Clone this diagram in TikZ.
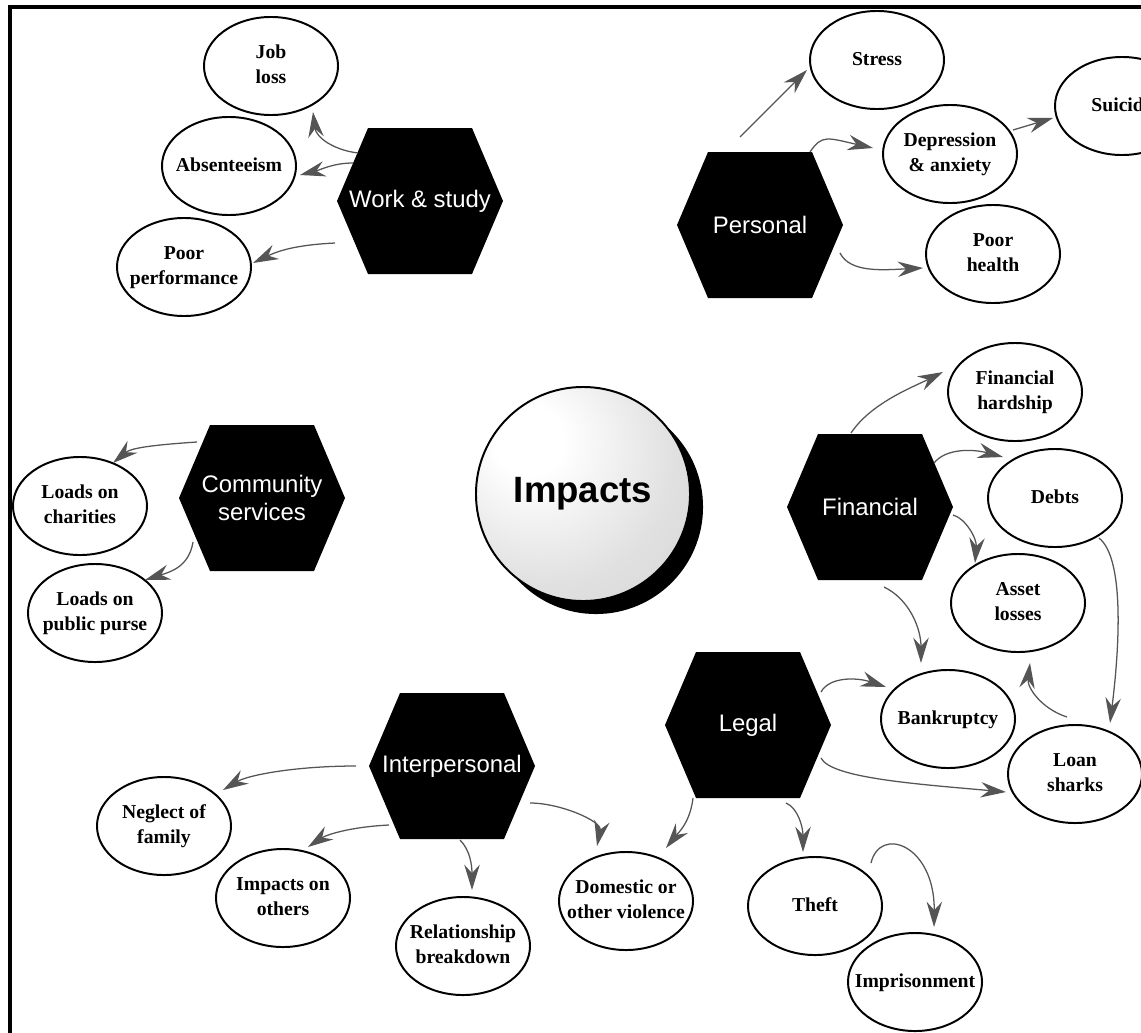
\documentclass[tikz,border=0pt]{standalone}
\usepackage{fontspec}
\setmainfont{Liberation Serif}
\newfontfamily\hexfont{Liberation Sans}
\usetikzlibrary{arrows.meta,shapes.geometric}
\definecolor{linegray}{HTML}{555555}
\definecolor{headgray}{HTML}{555555}
\pgfdeclareradialshading{impball}{\pgfpoint{-14bp}{14bp}}{color(0bp)=(white);color(8bp)=(white);color(30bp)=(black!12);color(60bp)=(black!20);color(80bp)=(black!22)}
\pgfdeclarelayer{bg}
\pgfsetlayers{bg,main}
\newcommand\etx[1]{\makebox[0pt]{\begin{tabular}{@{}c@{}}#1\end{tabular}}}
\newcommand\hexnode[3]{%
  \coordinate (#1c) at (#2);
  \fill[hexfill] ([shift={(-52,-73)}]#1c) -- ++(104,0) -- ++(31,73) -- ++(-31,73) -- ++(-104,0) -- ++(-31,-73) -- cycle;
  \node[hext] (#1) at (#1c) {#3};}
\newcommand\ellnode[3]{\node[ell] (#1) at (#2) {\etx{#3}};}
\begin{document}
\begin{tikzpicture}[x=0.025cm,y=-0.025cm,
  conn/.style={draw=linegray, line width=0.9pt, -{Stealth[length=18pt,width=11pt,inset=6pt,color=headgray]}},
  ell/.style={ellipse, draw=black, line width=1.4pt, fill=white, minimum width=3.35cm, minimum height=2.45cm, inner sep=0pt, font=\fontsize{14}{17.8}\selectfont\bfseries},
  hext/.style={text=white, font=\hexfont\fontsize{17}{20.5}\selectfont, align=center, inner sep=0pt},
  hexfill/.style={fill=black},
]
\useasboundingbox (0,0) rectangle (1141,1032);
\clip (0,0) rectangle (1141,1032);
\fill[white] (0,0) rectangle (1141,1032);
\draw[line width=2.2pt] (10,1040) -- (10,7) -- (1150,7);

% hexagons
\hexnode{ws}{420,201}{Work \& study}
\hexnode{per}{760,225}{Personal}
\hexnode{cs}{262,498}{Community\\services}
\hexnode{fin}{870,507}{Financial}
\hexnode{leg}{748,725}{Legal}
\hexnode{ip}{452,766}{Interpersonal}

% ellipses
\ellnode{jl}{271,66}{Job\\loss}
\ellnode{ab}{229,166}{Absenteeism}
\ellnode{pp}{184,267}{Poor\\performance}
\ellnode{st}{877,60}{Stress}
\ellnode{dep}{950,154}{Depression\\\& anxiety}
\ellnode{sui}{1122,106}{Suicide}
\ellnode{ph}{993,254}{Poor\\health}
\ellnode{lc}{80,506}{Loads on\\charities}
\ellnode{lp}{95,613}{Loads on\\public purse}
\ellnode{fh}{1015,392}{Financial\\hardship}
\ellnode{deb}{1055,498}{Debts}
\ellnode{al}{1018,603}{Asset\\losses}
\ellnode{bk}{948,719}{Bankruptcy}
\ellnode{ls}{1075,774}{Loan\\sharks}
\ellnode{nf}{164,826}{Neglect of\\family}
\ellnode{io}{283,898}{Impacts on\\others}
\ellnode{rb}{463,946}{Relationship\\breakdown}
\ellnode{dom}{626,901}{Domestic or\\other violence}
\ellnode{th}{815,906}{Theft}
\ellnode{pris}{915,982}{Imprisonment}

% central circle
\node[circle, fill=black, minimum size=5.35cm, inner sep=0pt] (impsh) at (596,507) {};
\node[circle, draw=black, line width=1.4pt, minimum size=5.35cm, inner sep=0pt, shading=impball,
      font=\hexfont\bfseries\fontsize{26}{30}\selectfont] (imp) at (583,494) {Impacts};

% spokes
\begin{pgfonlayer}{bg}
\draw[conn] (imp.119) -- ([shift={(43,77)}]ws.center);
\draw[conn] (imp.55) -- ([shift={(-48,72)}]per.center);
\draw[conn] (imp.west) -- ([shift={(84,0)}]cs.center);
\draw[conn] (impsh.3) -- ([shift={(-84,0)}]fin.center);
\draw[conn] (impsh.-58) -- ([shift={(-51,-73)}]leg.center);
\draw[conn] (imp.-116) -- ([shift={(38,-74)}]ip.center);
\end{pgfonlayer}

% work & study
\draw[conn] ([shift={(-62,-48)}]ws.center) .. controls +(-25,-3) and +(3,25) .. ([shift={(42,46)}]jl.center);
\draw[conn] ([shift={(-67,-38)}]ws.center) .. controls +(-20,0) and +(20,-5) .. ([shift={(71,9)}]ab.center);
\draw[conn] ([shift={(-85,42)}]ws.center) .. controls +(-40,2) and +(25,-12) .. ([shift={(69,-4)}]pp.center);

% personal
\draw[conn] ([shift={(-20,-88)}]per.center) -- ([shift={(-70,10)}]st.center);
\draw[conn] ([shift={(50,-73)}]per.center) .. controls +(12,-18) and +(-45,-10) .. ([shift={(-77,-6)}]dep.center);
\draw[conn] ([shift={(80,28)}]per.center) .. controls +(10,20) and +(-40,2) .. ([shift={(-70,14)}]ph.center);
\draw[conn] ([shift={(63,-24)}]dep.center) -- ([shift={(-69,12)}]sui.center);

% community
\draw[conn] ([shift={(-65,-56)}]cs.center) .. controls +(-45,3) and +(18,-15) .. ([shift={(33,-43)}]lc.center);
\draw[conn] ([shift={(-69,44)}]cs.center) .. controls +(-4,25) and +(25,-8) .. ([shift={(50,-33)}]lp.center);

% financial
\draw[conn] ([shift={(-19,-74)}]fin.center) .. controls +(20,-30) and +(-30,15) .. ([shift={(-72,-20)}]fh.center);
\draw[conn] ([shift={(64,-44)}]fin.center) .. controls +(12,-15) and +(-30,-8) .. ([shift={(-52,-41)}]deb.center);
\draw[conn] ([shift={(83,8)}]fin.center) .. controls +(12,3) and +(2,-25) .. ([shift={(-43,-40)}]al.center);
\draw[conn] ([shift={(14,80)}]fin.center) .. controls +(25,12) and +(0,-35) .. ([shift={(-27,-56)}]bk.center);
\draw[conn] ([shift={(44,40)}]deb.center) .. controls +(25,20) and +(10,-80) .. ([shift={(35,-51)}]ls.center);
\draw[conn] ([shift={(-8,-57)}]ls.center) .. controls +(-25,-8) and +(-3,25) .. ([shift={(12,60)}]al.center);

% legal
\draw[conn] ([shift={(73,-33)}]leg.center) .. controls +(8,-15) and +(-30,-10) .. ([shift={(-62,-32)}]bk.center);
\draw[conn] ([shift={(73,33)}]leg.center) .. controls +(10,20) and +(-90,-8) .. ([shift={(-69,18)}]ls.center);
\draw[conn] ([shift={(-55,73)}]leg.center) .. controls +(-3,25) and +(12,-15) .. ([shift={(40,-53)}]dom.center);
\draw[conn] ([shift={(38,78)}]leg.center) .. controls +(12,5) and +(0,-25) .. ([shift={(-12,-54)}]th.center);
\draw[conn] ([shift={(56,-43)}]th.center) .. controls +(9,-38) and +(1,-82) .. ([shift={(19,-55)}]pris.center);

% interpersonal
\draw[conn] ([shift={(-96,0)}]ip.center) .. controls +(-60,0) and +(25,-15) .. ([shift={(59,-36)}]nf.center);
\draw[conn] ([shift={(-63,59)}]ip.center) .. controls +(-40,2) and +(18,-12) .. ([shift={(25,-51)}]io.center);
\draw[conn] ([shift={(8,74)}]ip.center) .. controls +(10,10) and +(0,-25) .. ([shift={(9,-56)}]rb.center);
\draw[conn] ([shift={(78,37)}]ip.center) .. controls +(30,0) and +(5,-25) .. ([shift={(-29,-55)}]dom.center);
\end{tikzpicture}
\end{document}
